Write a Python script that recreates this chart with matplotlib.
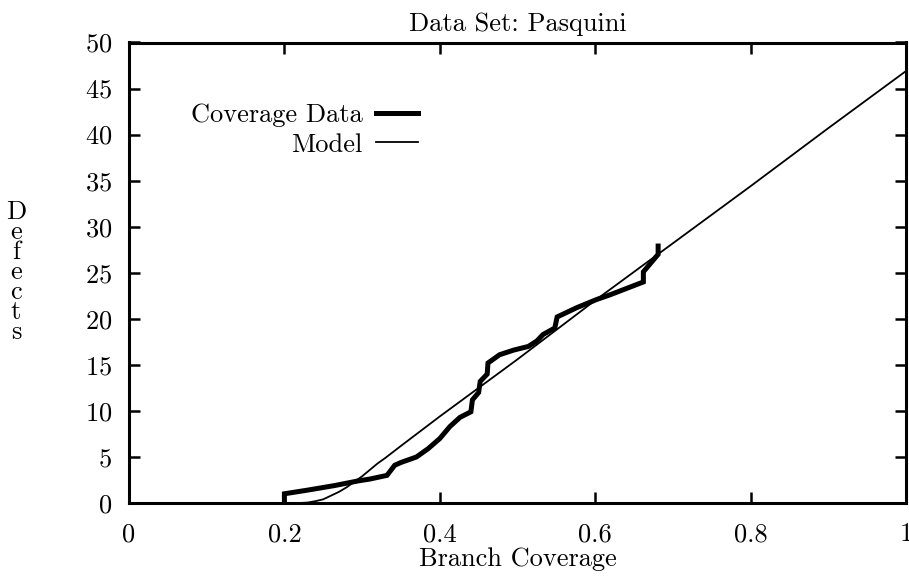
import numpy as np
import matplotlib.pyplot as plt

plt.rcParams['font.family'] = 'cmr10'
plt.rcParams['axes.formatter.use_mathtext'] = True
plt.rcParams['mathtext.fontset'] = 'cm'

# ------------------------------- DATA ----------------------------------------
# Coverage data (step-like measured curve)
cov_x = [0.200, 0.200, 0.230, 0.265, 0.295, 0.310, 0.332, 0.342, 0.350, 0.370,
         0.385, 0.400, 0.413, 0.426, 0.440, 0.442, 0.450, 0.452, 0.461, 0.462,
         0.477, 0.495, 0.514, 0.525, 0.533, 0.548, 0.551, 0.576, 0.602, 0.619,
         0.662, 0.662, 0.670, 0.681, 0.681]
cov_y = [0.0, 1.0, 1.4, 1.9, 2.4, 2.6, 3.0, 4.1, 4.4, 5.0,
         5.9, 7.0, 8.3, 9.3, 9.9, 11.2, 12.0, 13.2, 14.0, 15.2,
         16.1, 16.6, 17.0, 17.6, 18.3, 19.0, 20.2, 21.2, 22.1, 22.6,
         24.0, 25.1, 25.9, 27.0, 27.9]

# Model curve
model_x = [0.22, 0.23, 0.24, 0.25, 0.26, 0.27, 0.28, 0.29, 0.30, 0.31,
           0.32, 0.33, 0.35, 0.40, 0.50, 0.60, 0.70, 0.80, 0.90, 1.00]
model_y = [0.0, 0.05, 0.2, 0.4, 0.8, 1.2, 1.7, 2.3, 2.9, 3.6,
           4.3, 4.9, 6.2, 9.4, 15.6, 22.0, 28.2, 34.4, 40.7, 46.9]

xticks = [0, 0.2, 0.4, 0.6, 0.8, 1]
xticklabels = ['0', '0.2', '0.4', '0.6', '0.8', '1']
yticks = list(range(0, 55, 5))

FS = 19

# ------------------------------ PLOTTING -------------------------------------
fig = plt.figure(figsize=(9.09, 5.79), dpi=100)
ax = fig.add_axes([129/909, 1 - 503/579, 777/909, 460.5/579])

ax.plot(cov_x, cov_y, color='black', lw=3.6, solid_joinstyle='miter',
        label='Coverage Data')
ax.plot(model_x, model_y, color='black', lw=1.3, label='Model')

ax.set_xlim(0, 1)
ax.set_ylim(0, 50)
ax.set_xticks(xticks)
ax.set_xticklabels(xticklabels)
ax.set_yticks(yticks)
ax.tick_params(direction='in', top=True, right=True, length=8, width=1.8,
               labelsize=FS, pad=12)
ax.tick_params(axis='x', pad=14)
for s in ax.spines.values():
    s.set_linewidth(2.2)

ax.set_title('Data Set: Pasquini', fontsize=FS, pad=8)
ax.set_xlabel('Branch Coverage', fontsize=FS, labelpad=1)
fig.text(16/909, 1 - 272/579, 'D\ne\nf\ne\nc\nt\ns', fontsize=FS,
         ha='center', va='center', linespacing=0.8)

ax.legend(loc='upper right', bbox_to_anchor=(0.372, 0.868), frameon=False,
          markerfirst=False, fontsize=FS, handlelength=1.6, borderpad=0,
          borderaxespad=0, handletextpad=0.5, labelspacing=0.22)

fig.savefig('out.png', dpi=100)
